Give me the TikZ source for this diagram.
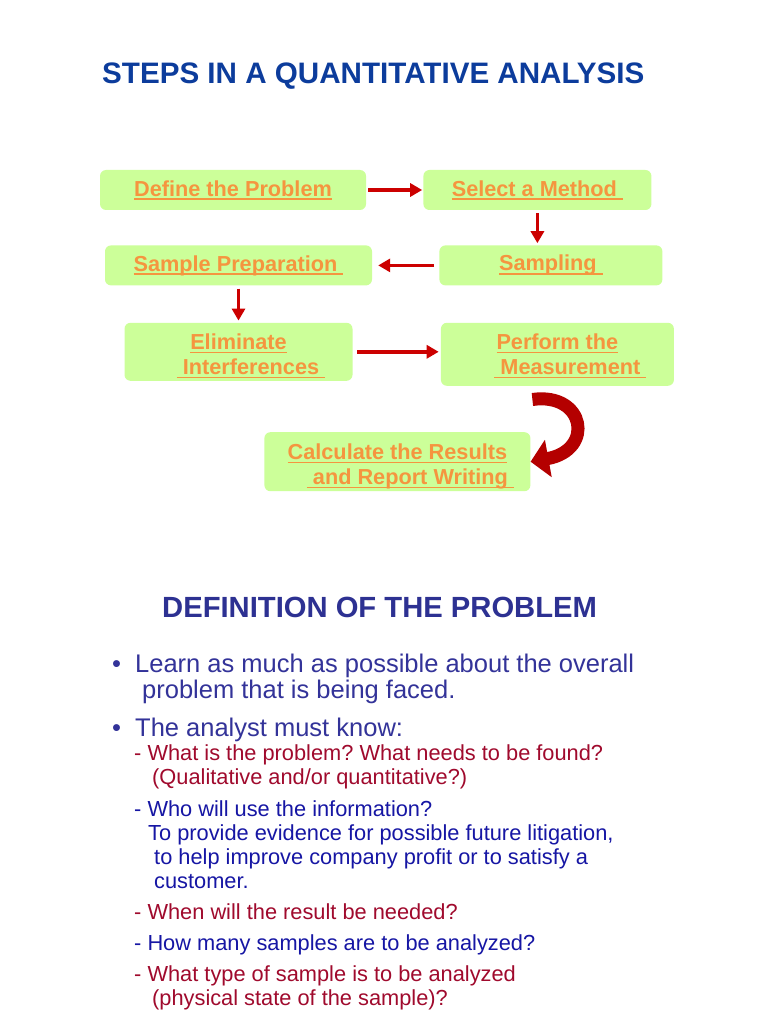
\documentclass[tikz,border=0pt]{standalone}
\usepackage{fontspec}
\setmainfont{Liberation Sans}
\usetikzlibrary{arrows.meta,calc,positioning}
\definecolor{navy}{HTML}{0C3C9C}
\definecolor{deepblue}{HTML}{2D3192}
\definecolor{slate}{HTML}{333399}
\definecolor{crimson}{HTML}{A00A2D}
\definecolor{royal}{HTML}{1616A4}
\definecolor{amber}{HTML}{F5953F}
\definecolor{lime}{HTML}{CCFF99}
\definecolor{arrowred}{HTML}{CC0000}
\definecolor{curlred}{HTML}{B40000}
\newcommand\stepul[1]{\setbox0\hbox{#1}\rlap{\rule[-3.6pt]{\wd0}{1.3pt}}\box0}
\frenchspacing

\begin{document}
\begin{tikzpicture}[x=1pt,y=-1pt,>=Latex,
  stepbox/.style={fill=lime,rounded corners=6pt,inner sep=0pt,align=center,text=amber,font=\bfseries\fontsize{21.7}{25}\selectfont},
  flow/.style={arrowred,line width=3.6pt,-{Triangle[length=12pt,width=13pt]}},
  heading/.style={anchor=base west,inner sep=0pt,font=\bfseries\fontsize{29.2}{34}\selectfont},
  bulletline/.style={anchor=base west,inner sep=0pt,text=slate,font=\fontsize{25.5}{30}\selectfont},
  subline/.style={anchor=base west,inner sep=0pt,font=\fontsize{21.8}{26}\selectfont}]
\fill[white] (0,0) rectangle (768,1024);
\useasboundingbox (0,0) rectangle (768,1024);

\node[heading,text=navy,font=\bfseries\fontsize{29.6}{34}\selectfont] (title) at (102,84) {STEPS IN A QUANTITATIVE ANALYSIS};

\node[stepbox,minimum width=266pt,minimum height=40pt] (define) at (233,190) {\stepul{Define the Problem}};
\node[stepbox,minimum width=228pt,minimum height=40pt,right=57pt of define] (select) {\stepul{Select a Method\ }};
\node[stepbox,minimum width=223pt,minimum height=40pt,below=35pt of select,xshift=13.5pt] (sampling) {\stepul{Sampling\ }};
\node[stepbox,minimum width=267pt,minimum height=40pt,left=67pt of sampling] (prep) {\stepul{Sample Preparation\ }};
\node[stepbox,minimum width=228pt,minimum height=58pt,below=37pt of prep] (elim) {\rule{0pt}{24.6pt}\stepul{Eliminate}\\\hspace*{25pt}\stepul{\ Interferences\ }};
\node[stepbox,minimum width=233pt,minimum height=63pt,right=88pt of elim.north east,anchor=north west] (perform) {\rule{0pt}{19.6pt}\stepul{Perform the}\\\hspace*{26pt}\stepul{\ Measurement\ }};
\node[stepbox,minimum width=266pt,minimum height=59pt,below=46pt of perform,xshift=-160pt] (calc) {\rule{0pt}{24.6pt}\stepul{Calculate the Results}\\\hspace*{26pt}\stepul{\ and Report Writing\ }};

\draw[flow,shorten <=2pt,shorten >=1pt] (define) -- (select);
\draw[flow,shorten <=3pt,shorten >=2pt] (select.south) -- (select.south |- sampling.north);
\draw[flow,shorten <=5pt,shorten >=6pt] (sampling) -- (prep);
\draw[flow,shorten <=3pt,shorten >=2pt] (prep.south) -- (prep.south |- elim.north);
\draw[flow,shorten <=4.5pt,shorten >=2pt] (elim.east) -- (elim.east -| perform.west);
\coordinate (curlstart) at ($(perform.south)+(-25,13.5)$);
\draw[curlred,line width=13pt,-{Triangle[length=18pt,width=37pt]}] (curlstart) .. controls (585,392) and (595,450) .. (calc.east);

\node[heading,text=deepblue] (deftitle) at (162,617) {DEFINITION OF THE PROBLEM};
\node[bulletline] (dot1) at (112,672) {•};
\node[bulletline] (learn) at (135,672) {Learn as much as possible about the overall};
\node[bulletline] (learnb) at (142,698) {problem that is being faced.};
\node[bulletline] (dot2) at (112,736) {•};
\node[bulletline] (know) at (135,736) {The analyst must know:};
\node[subline,text=crimson] (q1) at (134,760) {- What is the problem? What needs to be found?};
\node[subline,text=crimson] (q1b) at (152,784) {(Qualitative and/or quantitative?)};
\node[subline,text=royal] (q2) at (134,816) {- Who will use the information?};
\node[subline,text=royal] (q2b) at (148,840) {To provide evidence for possible future litigation,};
\node[subline,text=royal] (q2c) at (154,864) {to help improve company profit or to satisfy a};
\node[subline,text=royal] (q2d) at (154,888) {customer.};
\node[subline,text=crimson] (q3) at (134,919) {- When will the result be needed?};
\node[subline,text=royal] (q4) at (134,950) {- How many samples are to be analyzed?};
\node[subline,text=crimson] (q5) at (134,981) {- What type of sample is to be analyzed};
\node[subline,text=crimson] (q5b) at (152,1005) {(physical state of the sample)?};
\end{tikzpicture}
\end{document}
